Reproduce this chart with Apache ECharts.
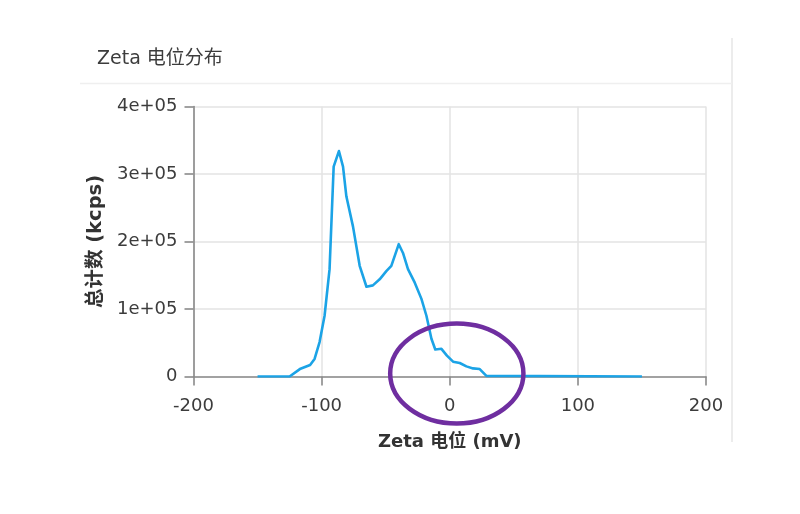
<!DOCTYPE html>
<html>
<head>
<meta charset="utf-8">
<script src="https://cdn.jsdelivr.net/npm/echarts@6/dist/echarts.min.js"></script>
<style>
html,body{margin:0;padding:0;background:#fff;}
#c{width:800px;height:514px;}
</style>
</head>
<body>
<div id="c"></div>
<script>
// Zeta potential (mV)
const zeta = [-150, -125, -117, -109, -105.5, -101.6, -97.7, -93.8, -90.6, -86.5, -83.3, -80.7, -75.5, -70.3, -65, -60, -54.7, -49.5, -45.6, -39.8, -36.5, -32.6, -27.3, -22.1, -18.2, -14.3, -11.3, -6.5, -2.2, 2.6, 7.8, 13, 18.2, 23.4, 28.6, 30, 150];
// Total counts (kcps)
const counts = [0, 0, 11000, 17000, 26000, 51000, 90000, 159000, 311000, 334000, 311000, 267000, 222000, 164000, 133000, 135000, 144000, 156000, 164000, 196000, 183000, 159000, 139000, 115000, 90000, 56000, 40000, 41000, 31000, 22000, 20000, 15000, 12000, 11000, 1000, 0, 0];
const yTickValues = [0, 100000, 200000, 300000, 400000];
const yTickLabels = ['0', '1e+05', '2e+05', '3e+05', '4e+05'];
const xTickLabels = ['-200', '-100', '0', '100', '200'];
const titleText = 'Zeta 电位分布';
const xName = 'Zeta 电位 (mV)';
const yName = '总计数 (kcps)';
// highlighted region (annotation ellipse), in data units
const highlight = {cx: 5.5, cy: 4400, rxMv: 52, ryVal: 74000};

const FONT = "'DejaVu Sans', 'Noto Sans CJK SC', sans-serif";
const chart = echarts.init(document.getElementById('c'), null, {renderer: 'canvas'});
const data = zeta.map((x, i) => [x, counts[i]]);

chart.setOption({
  animation: false,
  backgroundColor: '#fff',
  grid: {left: 193.5, right: 94, top: 106.5, bottom: 137.5, containLabel: false},
  xAxis: {
    type: 'value', min: -200, max: 200, interval: 100,
    name: xName, nameLocation: 'middle', nameGap: 57,
    nameTextStyle: {fontFamily: FONT, fontSize: 18, fontWeight: 'bold', color: '#333'},
    axisLine: {show: true, onZero: false, lineStyle: {color: '#8a8a8a', width: 1.6}},
    axisTick: {show: true, length: 9, lineStyle: {color: '#8a8a8a', width: 1.6}},
    axisLabel: {fontFamily: FONT, fontSize: 18, color: '#3c3c3c', margin: 21,
      formatter: v => xTickLabels[Math.round((v + 200) / 100)]},
    splitLine: {show: true, lineStyle: {color: '#e3e3e3', width: 1.5}}
  },
  yAxis: {
    type: 'value', min: 0, max: 400000, interval: 100000,
    name: yName, nameLocation: 'middle', nameGap: 84, nameRotate: 90,
    nameTextStyle: {fontFamily: FONT, fontSize: 19.5, fontWeight: 'bold', color: '#333'},
    axisLine: {show: true, onZero: false, lineStyle: {color: '#8a8a8a', width: 1.6}},
    axisTick: {show: true, length: 9, lineStyle: {color: '#8a8a8a', width: 1.6}},
    axisLabel: {fontFamily: FONT, fontSize: 18, color: '#3c3c3c', margin: 16,
      formatter: v => yTickLabels[yTickValues.indexOf(v)]},
    splitLine: {show: true, lineStyle: {color: '#e3e3e3', width: 1.5}}
  },
  series: [{
    type: 'line', data: data, showSymbol: false, smooth: false,
    lineStyle: {color: '#1ba3e6', width: 2.6, join: 'round'},
    z: 3
  }],
  graphic: [
    {type: 'line', id: 'rb', shape: {x1: 732, y1: 38, x2: 732, y2: 442}, style: {stroke: '#e6e6e6', lineWidth: 1.5}, silent: true},
    {type: 'line', id: 'hd', shape: {x1: 80, y1: 83.5, x2: 732, y2: 83.5}, style: {stroke: '#efefef', lineWidth: 1.5}, silent: true},
    {type: 'text', id: 'tt', left: 97, top: 50, style: {text: titleText, font: "19px " + FONT, fill: '#3c3c3c'}, silent: true}
  ]
});

const c = chart.convertToPixel({gridIndex: 0}, [highlight.cx, highlight.cy]);
const e = chart.convertToPixel({gridIndex: 0}, [highlight.cx + highlight.rxMv, highlight.cy + highlight.ryVal]);
chart.setOption({
  graphic: [
    {type: 'ellipse', id: 'hl', shape: {cx: c[0], cy: c[1], rx: Math.abs(e[0] - c[0]), ry: Math.abs(c[1] - e[1])},
     style: {fill: 'none', stroke: '#6f2ea0', lineWidth: 4.5}, z: 10, silent: true}
  ]
});
</script>
</body>
</html>
